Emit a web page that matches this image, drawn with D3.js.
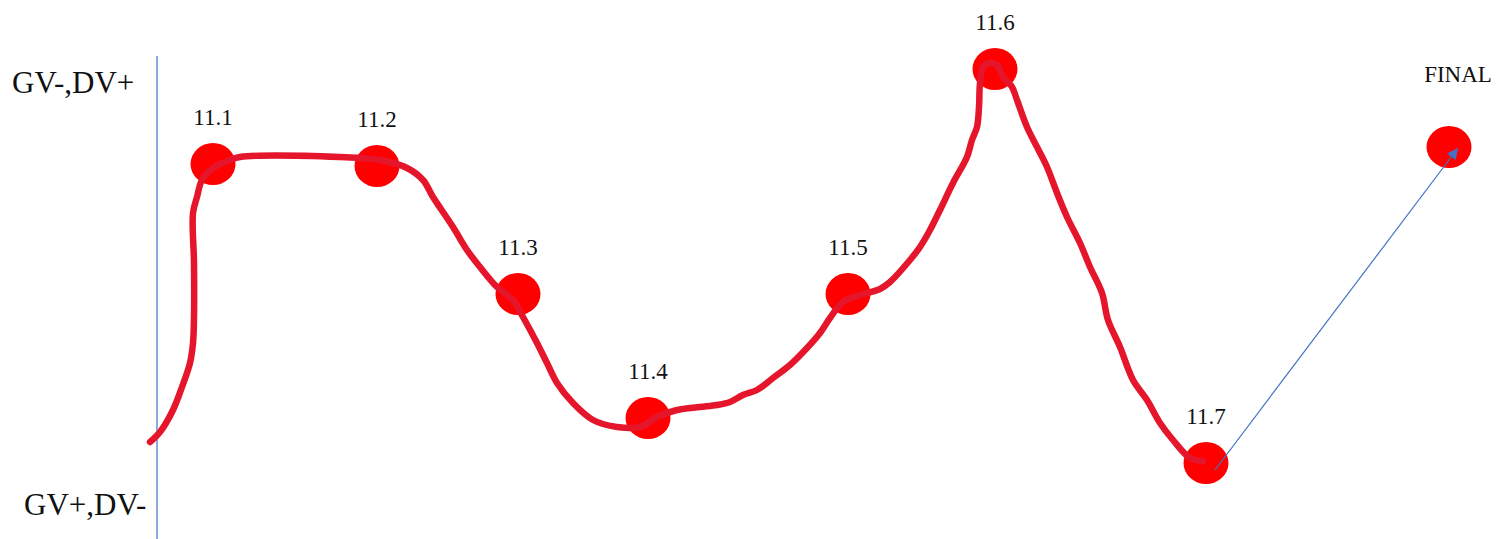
<!DOCTYPE html>
<html>
<head>
<meta charset="utf-8">
<script src="https://cdn.jsdelivr.net/npm/d3@7"></script>
<style>
  html, body { margin: 0; padding: 0; background: #fff; }
  svg { display: block; }
  text { font-family: "Liberation Serif", "Times New Roman", serif; fill: #111; }
</style>
</head>
<body>
<div id="chart"></div>
<script>
// stage labels and where each stage dot sits (x = progress, y = level)
const stageLabels = ['11.1', '11.2', '11.3', '11.4', '11.5', '11.6', '11.7', 'FINAL'];
const stageX = [6.3, 22.7, 36.8, 49.8, 69.8, 84.5, 105.6, 129.9];
const stageY = [31.6, 31.4, 18.6, 6.2, 18.6, 41.1, 1.7, 33.3];

// hand drawn path
const pathX = [0, 1, 2.3, 3.2, 4, 4.3, 4.4, 4.4, 4.3, 4.7, 5.2, 6.3, 8, 9, 19, 23, 25.7, 27.3,
  28.3, 30.3, 31.7, 33, 34.7, 36.3, 37.3, 38.7, 39.7, 40.7, 42.3, 44.3, 46.7, 49, 50.7, 52.7,
  55, 56.7, 58, 59.3, 60.7, 62.3, 64, 65.7, 67, 68, 69.3, 71, 73, 74, 76, 77, 78, 79, 80.3,
  81.7, 82.2, 82.7, 82.9, 83, 83.3, 84, 84.7, 85.3, 86.2, 86.7, 87.7, 88.7, 89.7, 90.7, 91.7,
  93, 94, 95.2, 95.8, 97, 98.3, 99.7, 101, 102.3, 104, 105.3];
const pathY = [3.8, 4.8, 7, 9.3, 11.7, 13.7, 16.3, 21.7, 26.7, 28.3, 30, 31.2, 32, 32.3, 32.3, 32,
  31.2, 30, 28.3, 25.3, 23, 21.3, 19.3, 18, 16.3, 13.7, 11.7, 9.7, 7.7, 6, 5.3, 5.3, 6.3, 7,
  7.3, 7.5, 7.8, 8.5, 9, 10.2, 11.5, 13.2, 14.7, 16.2, 17.8, 18.5, 19.1, 19.8, 22, 23.3, 25, 27,
  29.7, 32.3, 34, 35.3, 37.3, 39.7, 41.3, 41.7, 41.5, 40.3, 39.3, 38, 35.3, 33.3, 31.3, 28.7,
  26.3, 23.7, 21.3, 18.7, 16, 13.3, 10, 8, 5.7, 4, 2.2, 1.9];

// the arrow from 11.7 to FINAL
const arrowX = [106.5, 130.8];
const arrowY = [1.0, 33.2];

const axisLabels = ['GV-,DV+', 'GV+,DV-'];
const axisAt = 0.7;
const axisTop = 42.4;
const axisBottom = -5.9;

const width = 1503, height = 539;
const x = d3.scaleLinear().domain([0, 135]).range([150, 1500]);
const y = d3.scaleLinear().domain([0, 42]).range([480, 60]);

const svg = d3.select('#chart').append('svg')
  .attr('width', width)
  .attr('height', height);

// vertical axis line
svg.append('line')
  .attr('x1', x(axisAt)).attr('x2', x(axisAt))
  .attr('y1', y(axisTop)).attr('y2', y(axisBottom))
  .attr('stroke', '#4472c4')
  .attr('stroke-width', 1.2);

svg.append('text')
  .attr('x', 12).attr('y', 93)
  .style('font-size', '31px')
  .text(axisLabels[0]);
svg.append('text')
  .attr('x', 24).attr('y', 515)
  .style('font-size', '31px')
  .text(axisLabels[1]);

// dots
const stages = stageLabels.map((s, i) => ({ label: s, x: stageX[i], y: stageY[i] }));
svg.selectAll('.dot')
  .data(stages)
  .enter()
  .append('ellipse')
  .attr('class', 'dot')
  .attr('cx', d => x(d.x))
  .attr('cy', d => y(d.y))
  .attr('rx', 22.5)
  .attr('ry', 21)
  .attr('fill', '#ff0000');

// labels above dots
svg.selectAll('.lbl')
  .data(stages)
  .enter()
  .append('text')
  .attr('class', 'lbl')
  .attr('x', d => x(d.x) + (d.label === 'FINAL' ? 9 : 0))
  .attr('y', d => y(d.y) - (d.label === 'FINAL' ? 65 : 39))
  .attr('text-anchor', 'middle')
  .style('font-size', '23px')
  .text(d => d.label);

// red hand drawn curve
const pts = pathX.map((v, i) => [v, pathY[i]]);
const line = d3.line()
  .x(d => x(d[0]))
  .y(d => y(d[1]))
  .curve(d3.curveCatmullRom.alpha(0.5));
svg.append('path')
  .datum(pts)
  .attr('d', line)
  .attr('fill', 'none')
  .attr('stroke', '#e5162c')
  .attr('stroke-width', 6.5)
  .attr('stroke-linecap', 'round')
  .attr('stroke-linejoin', 'round');

// blue arrow
svg.append('defs').append('marker')
  .attr('id', 'head')
  .attr('viewBox', '0 0 10 10')
  .attr('refX', 10).attr('refY', 5)
  .attr('markerUnits', 'userSpaceOnUse')
  .attr('markerWidth', 15).attr('markerHeight', 11)
  .attr('orient', 'auto')
  .append('path')
  .attr('d', 'M0,0 L10,5 L0,10 z')
  .attr('fill', '#4472c4');

svg.append('line')
  .attr('x1', x(arrowX[0])).attr('y1', y(arrowY[0]))
  .attr('x2', x(arrowX[1])).attr('y2', y(arrowY[1]))
  .attr('stroke', '#4472c4')
  .attr('stroke-width', 1.2)
  .attr('marker-end', 'url(#head)');
</script>
</body>
</html>
